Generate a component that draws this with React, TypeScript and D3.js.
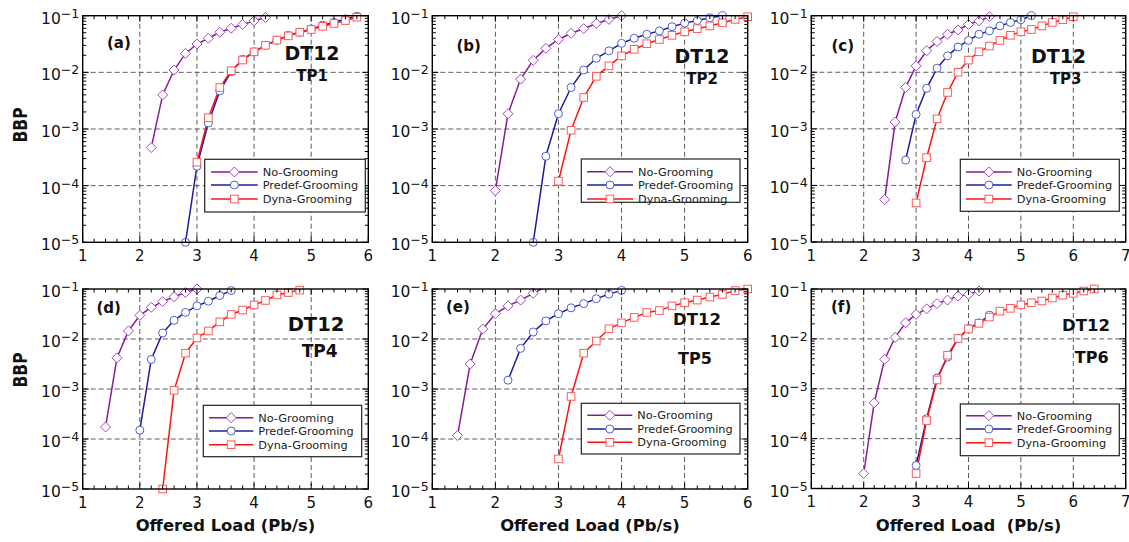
import React from 'react';
import * as d3 from 'd3';

// ---------- data ----------
const seriesNames = ['No-Grooming', 'Predef-Grooming', 'Dyna-Grooming'];
const yExponents = [-5, -4, -3, -2, -1];

// panel (a) TP1
const loadA_No = [2.2, 2.4, 2.6, 2.8, 3.0, 3.2, 3.4, 3.6, 3.8, 4.0, 4.2];
const bbpA_No = [4.7e-4, 4.0e-3, 1.1e-2, 2.16e-2, 3.16e-2, 4.0e-2, 5.1e-2, 6.0e-2, 7.0e-2, 8.1e-2, 9.3e-2];
const loadA_Pre = [2.8, 3.0, 3.2, 3.4, 3.6, 3.8, 4.0, 4.2, 4.4, 4.6, 4.8, 5.0, 5.2, 5.4, 5.6, 5.8];
const bbpA_Pre = [1e-5, 2.2e-4, 1.28e-3, 4.7e-3, 1.03e-2, 1.7e-2, 2.3e-2, 3.0e-2, 3.7e-2, 4.5e-2, 5.1e-2, 5.8e-2, 6.8e-2, 7.6e-2, 8.8e-2, 9.8e-2];
const loadA_Dyn = [3.0, 3.2, 3.4, 3.6, 3.8, 4.0, 4.2, 4.4, 4.6, 4.8, 5.0, 5.2, 5.4, 5.6, 5.8];
const bbpA_Dyn = [2.6e-4, 1.58e-3, 5.4e-3, 1.07e-2, 1.65e-2, 2.3e-2, 3.0e-2, 3.7e-2, 4.4e-2, 5.1e-2, 5.7e-2, 6.5e-2, 7.3e-2, 8.2e-2, 9.4e-2];

// panel (b) TP2
const loadB_No = [2.0, 2.2, 2.4, 2.6, 2.8, 3.0, 3.2, 3.4, 3.6, 3.8, 4.0];
const bbpB_No = [8.2e-5, 1.86e-3, 7.6e-3, 1.63e-2, 2.65e-2, 3.8e-2, 4.9e-2, 5.9e-2, 7.3e-2, 8.6e-2, 1e-1];
const loadB_Pre = [2.6, 2.8, 3.0, 3.2, 3.4, 3.6, 3.8, 4.0, 4.2, 4.4, 4.6, 4.8, 5.0, 5.2, 5.4, 5.6];
const bbpB_Pre = [1e-5, 3.3e-4, 1.86e-3, 5.4e-3, 1.1e-2, 1.77e-2, 2.4e-2, 3.25e-2, 4.0e-2, 4.7e-2, 5.4e-2, 6.4e-2, 7.4e-2, 8.2e-2, 9.2e-2, 1e-1];
const loadB_Dyn = [3.0, 3.2, 3.4, 3.6, 3.8, 4.0, 4.2, 4.4, 4.6, 4.8, 5.0, 5.2, 5.4, 5.6, 5.8, 6.0];
const bbpB_Dyn = [1.2e-4, 9.5e-4, 3.6e-3, 8.5e-3, 1.3e-2, 1.95e-2, 2.55e-2, 3.2e-2, 3.8e-2, 4.5e-2, 5.2e-2, 5.9e-2, 6.6e-2, 7.5e-2, 8.6e-2, 9.6e-2];

// panel (c) TP3
const loadC_No = [2.4, 2.6, 2.8, 3.0, 3.2, 3.4, 3.6, 3.8, 4.0, 4.2, 4.4];
const bbpC_No = [5.6e-5, 1.32e-3, 5.4e-3, 1.3e-2, 2.4e-2, 3.5e-2, 4.7e-2, 5.6e-2, 7.0e-2, 8.1e-2, 9.6e-2];
const loadC_Pre = [2.8, 3.0, 3.2, 3.4, 3.6, 3.8, 4.0, 4.2, 4.4, 4.6, 4.8, 5.0, 5.2];
const bbpC_Pre = [2.8e-4, 1.8e-3, 5.2e-3, 1.18e-2, 1.95e-2, 2.8e-2, 3.65e-2, 4.7e-2, 5.4e-2, 6.6e-2, 7.6e-2, 8.5e-2, 1e-1];
const loadC_Dyn = [3.0, 3.2, 3.4, 3.6, 3.8, 4.0, 4.2, 4.4, 4.6, 4.8, 5.0, 5.2, 5.4, 5.6, 5.8, 6.0];
const bbpC_Dyn = [4.9e-5, 3.1e-4, 1.5e-3, 4.4e-3, 1.0e-2, 1.64e-2, 2.3e-2, 2.9e-2, 3.65e-2, 4.5e-2, 5.2e-2, 5.7e-2, 6.6e-2, 7.6e-2, 8.5e-2, 9.6e-2];

// panel (d) TP4
const loadD_No = [1.4, 1.6, 1.8, 2.0, 2.2, 2.4, 2.6, 2.8, 3.0];
const bbpD_No = [1.74e-4, 4.2e-3, 1.45e-2, 2.97e-2, 4.3e-2, 5.6e-2, 7.0e-2, 8.5e-2, 1e-1];
const loadD_Pre = [2.0, 2.2, 2.4, 2.6, 2.8, 3.0, 3.2, 3.4, 3.6];
const bbpD_Pre = [1.5e-4, 3.9e-3, 1.32e-2, 2.36e-2, 3.4e-2, 4.6e-2, 5.7e-2, 7.4e-2, 9.3e-2];
const loadD_Dyn = [2.4, 2.6, 2.8, 3.0, 3.2, 3.4, 3.6, 3.8, 4.0, 4.2, 4.4, 4.6, 4.8];
const bbpD_Dyn = [1e-5, 9.4e-4, 5.2e-3, 1.05e-2, 1.45e-2, 2.2e-2, 3.1e-2, 3.8e-2, 4.8e-2, 5.9e-2, 7.6e-2, 8.5e-2, 9.5e-2];

// panel (e) TP5
const loadE_No = [1.4, 1.6, 1.8, 2.0, 2.2, 2.4, 2.6, 2.8];
const bbpE_No = [1.17e-4, 3.16e-3, 1.58e-2, 3.2e-2, 4.6e-2, 6.0e-2, 8.2e-2, 1.11e-1];
const loadE_Pre = [2.2, 2.4, 2.6, 2.8, 3.0, 3.2, 3.4, 3.6, 3.8, 4.0];
const bbpE_Pre = [1.5e-3, 6.5e-3, 1.38e-2, 2.3e-2, 3.2e-2, 4.2e-2, 5.1e-2, 6.4e-2, 7.9e-2, 9.4e-2];
const loadE_Dyn = [3.0, 3.2, 3.4, 3.6, 3.8, 4.0, 4.2, 4.4, 4.6, 4.8, 5.0, 5.2, 5.4, 5.6, 5.8, 6.0];
const bbpE_Dyn = [4.0e-5, 7.1e-4, 5.2e-3, 9.1e-3, 1.6e-2, 2.1e-2, 2.7e-2, 3.4e-2, 3.7e-2, 4.6e-2, 5.3e-2, 6.0e-2, 6.9e-2, 7.8e-2, 9.3e-2, 1e-1];

// panel (f) TP6
const loadF_No = [2.0, 2.2, 2.4, 2.6, 2.8, 3.0, 3.2, 3.4, 3.6, 3.8, 4.0, 4.2];
const bbpF_No = [2.0e-5, 5.2e-4, 3.9e-3, 1.07e-2, 2.1e-2, 3.1e-2, 4.0e-2, 5.1e-2, 6.0e-2, 7.2e-2, 7.8e-2, 9.1e-2];
const loadF_Pre = [3.0, 3.2, 3.4, 3.6, 3.8, 4.0, 4.2, 4.4];
const bbpF_Pre = [2.9e-5, 2.5e-4, 1.64e-3, 4.3e-3, 1.02e-2, 1.62e-2, 2.1e-2, 3.0e-2];
const loadF_Dyn = [3.0, 3.2, 3.4, 3.6, 3.8, 4.0, 4.2, 4.4, 4.6, 4.8, 5.0, 5.2, 5.4, 5.6, 5.8, 6.0, 6.2, 6.4];
const bbpF_Dyn = [2.0e-5, 2.3e-4, 1.5e-3, 4.7e-3, 1.02e-2, 1.58e-2, 2.05e-2, 2.74e-2, 3.6e-2, 4.1e-2, 4.8e-2, 5.3e-2, 5.75e-2, 6.6e-2, 7.5e-2, 8.2e-2, 9.1e-2, 1e-1];

const panelLabels = ['(a)', '(b)', '(c)', '(d)', '(e)', '(f)'];
const topologyLabels = ['TP1', 'TP2', 'TP3', 'TP4', 'TP5', 'TP6'];
const networkLabel = 'DT12';

// ---------- styling / layout ----------
const FONT = 'DejaVu Sans, Verdana, sans-serif';
const lineColors = ['#8a1a9a', '#1c1ca0', '#ff1010'];
const markerColors = ['#a04ac0', '#5060d0', '#ff5a5a'];

const zip = (xs: number[], ys: number[]) => xs.map((v, i) => [v, ys[i]] as [number, number]);

const panelData = [
  [zip(loadA_No, bbpA_No), zip(loadA_Pre, bbpA_Pre), zip(loadA_Dyn, bbpA_Dyn)],
  [zip(loadB_No, bbpB_No), zip(loadB_Pre, bbpB_Pre), zip(loadB_Dyn, bbpB_Dyn)],
  [zip(loadC_No, bbpC_No), zip(loadC_Pre, bbpC_Pre), zip(loadC_Dyn, bbpC_Dyn)],
  [zip(loadD_No, bbpD_No), zip(loadD_Pre, bbpD_Pre), zip(loadD_Dyn, bbpD_Dyn)],
  [zip(loadE_No, bbpE_No), zip(loadE_Pre, bbpE_Pre), zip(loadE_Dyn, bbpE_Dyn)],
  [zip(loadF_No, bbpF_No), zip(loadF_Pre, bbpF_Pre), zip(loadF_Dyn, bbpF_Dyn)],
];

interface Layout {
  L: number; R: number; T: number; B: number; xMax: number;
  lab: [number, number];
  dt: [number, number, number];
  tp: [number, number, number];
  leg: [number, number, number, number]; // x, y, w, h
  legRows: [number, number, number];
  legLine: [number, number];
  xTitle?: string;
}

const layouts: Layout[] = [
  { L: 82.7, R: 368.3, T: 15.7, B: 242.3, xMax: 6, lab: [107, 47.5], dt: [312, 59.5, 19], tp: [312, 80.5, 15],
    leg: [204.7, 159.3, 160.6, 52.7], legRows: [172, 185, 199], legLine: [211, 257.7] },
  { L: 432.3, R: 747.7, T: 15.7, B: 242.3, xMax: 6, lab: [456.5, 51], dt: [702, 63.3, 19], tp: [702, 83.5, 15],
    leg: [581.3, 159, 158.7, 43.3], legRows: [171.7, 185, 199], legLine: [587, 633] },
  { L: 811.3, R: 1125.7, T: 15.7, B: 242, xMax: 7, lab: [831.5, 50.5], dt: [1058.5, 63, 19], tp: [1065.5, 83.5, 15],
    leg: [960.3, 159.3, 159, 52], legRows: [172, 185, 199], legLine: [966, 1011.7] },
  { L: 82.7, R: 368.3, T: 289, B: 489, xMax: 6, lab: [96.5, 313], dt: [316, 330.7, 19.5], tp: [319.7, 356.7, 17],
    leg: [203.3, 405.3, 158.4, 51.4], legRows: [417.7, 431, 444.7], legLine: [209, 253.3], xTitle: 'Offered Load (Pb/s)' },
  { L: 432.3, R: 747.7, T: 289, B: 489, xMax: 6, lab: [446, 311.5], dt: [697, 325, 16.5], tp: [695, 364.3, 16],
    leg: [581.3, 403.3, 158.7, 50.7], legRows: [415.3, 429, 442.3], legLine: [587.3, 632.3], xTitle: 'Offered Load (Pb/s)' },
  { L: 811.3, R: 1125.7, T: 289, B: 488.5, xMax: 7, lab: [831, 311.5], dt: [1086, 330.7, 16.5], tp: [1091.7, 362.7, 16],
    leg: [960.3, 404, 159, 51.7], legRows: [415.7, 429, 442.7], legLine: [966, 1011.7], xTitle: 'Offered Load  (Pb/s)' },
];

function Marker({ kind, cx, cy, color }: { kind: number; cx: number; cy: number; color: string }) {
  if (kind === 0) {
    const h = 5;
    return <path d={`M${cx},${cy - h}L${cx + h},${cy}L${cx},${cy + h}L${cx - h},${cy}Z`} fill="white" stroke={color} strokeWidth={1} />;
  }
  if (kind === 1) {
    return <circle cx={cx} cy={cy} r={4} fill="white" stroke={color} strokeWidth={1} />;
  }
  const s = 3.8;
  return <rect x={cx - s} y={cy - s} width={2 * s} height={2 * s} fill="white" stroke={color} strokeWidth={1} />;
}

function Panel({ idx }: { idx: number }) {
  const lay = layouts[idx];
  const { L, R, T, B, xMax } = lay;
  const x = d3.scaleLinear().domain([1, xMax]).range([L, R]);
  const y = d3.scaleLog().domain([1e-5, 1e-1]).range([B, T]);
  const line = d3.line<[number, number]>().x((d) => x(d[0])).y((d) => y(d[1]));
  const majorX = d3.range(1, xMax + 0.001, 1);
  const minorX = d3.range(1, xMax + 0.001, 0.2).filter((v) => Math.abs(v - Math.round(v)) > 0.01);
  const minorY: number[] = [];
  yExponents.slice(0, 4).forEach((e) => { for (let k = 2; k <= 9; k++) minorY.push(k * Math.pow(10, e)); });
  const clipId = `clip-${idx}`;
  const grid = '#5a5a5a';
  const dash = '5,3';
  return (
    <g>
      <defs>
        <clipPath id={clipId}><rect x={L} y={T} width={R - L} height={B - T} /></clipPath>
      </defs>
      <rect x={L} y={T} width={R - L} height={B - T} fill="white" />
      {/* grid */}
      {majorX.slice(1, -1).map((v) => (
        <line key={`gx${v}`} x1={x(v)} x2={x(v)} y1={T} y2={B} stroke={grid} strokeWidth={1} strokeDasharray={dash} />
      ))}
      {yExponents.slice(1, -1).map((e) => (
        <line key={`gy${e}`} x1={L} x2={R} y1={y(Math.pow(10, e))} y2={y(Math.pow(10, e))} stroke={grid} strokeWidth={1} strokeDasharray={dash} />
      ))}
      {/* series */}
      <g clipPath={`url(#${clipId})`}>
        {panelData[idx].map((s, si) => (
          <path key={`l${si}`} d={line(s) || ''} fill="none" stroke={lineColors[si]} strokeWidth={1.5} />
        ))}
      </g>
      {panelData[idx].map((s, si) => (
        <g key={`m${si}`}>
          {s.filter((d) => d[1] <= 0.101).map((d, i) => (
            <Marker key={i} kind={si} cx={x(d[0])} cy={y(d[1])} color={markerColors[si]} />
          ))}
        </g>
      ))}
      {/* frame */}
      <rect x={L} y={T} width={R - L} height={B - T} fill="none" stroke="black" strokeWidth={1.4} />
      {/* ticks */}
      {majorX.map((v) => (
        <g key={`tx${v}`}>
          <line x1={x(v)} x2={x(v)} y1={B} y2={B - 6} stroke="black" strokeWidth={1} />
          <line x1={x(v)} x2={x(v)} y1={T} y2={T + 6} stroke="black" strokeWidth={1} />
          <text x={x(v)} y={B + 18.5} textAnchor="middle" fontFamily={FONT} fontSize={15} fill="#111">{v}</text>
        </g>
      ))}
      {minorX.map((v) => (
        <g key={`mx${v.toFixed(1)}`}>
          <line x1={x(v)} x2={x(v)} y1={B} y2={B - 3.5} stroke="black" strokeWidth={1} />
          <line x1={x(v)} x2={x(v)} y1={T} y2={T + 3.5} stroke="black" strokeWidth={1} />
        </g>
      ))}
      {yExponents.map((e) => {
        const yy = y(Math.pow(10, e));
        return (
          <g key={`ty${e}`}>
            <line x1={L} x2={L + 6} y1={yy} y2={yy} stroke="black" strokeWidth={1} />
            <line x1={R} x2={R - 6} y1={yy} y2={yy} stroke="black" strokeWidth={1} />
            <text x={L - 3.5} y={yy + 8} textAnchor="end" fontFamily={FONT} fontSize={15.5} fill="#111">
              <tspan>10</tspan>
              <tspan dy={-6} fontSize={12.5}>{`\u2212${Math.abs(e)}`}</tspan>
            </text>
          </g>
        );
      })}
      {minorY.map((v, i) => (
        <g key={`my${i}`}>
          <line x1={L} x2={L + 3.5} y1={y(v)} y2={y(v)} stroke="black" strokeWidth={1} />
          <line x1={R} x2={R - 3.5} y1={y(v)} y2={y(v)} stroke="black" strokeWidth={1} />
        </g>
      ))}
      {/* annotations */}
      <text x={lay.lab[0]} y={lay.lab[1]} fontFamily={FONT} fontWeight="bold" fontSize={15} fill="#111">{panelLabels[idx]}</text>
      <text x={lay.dt[0]} y={lay.dt[1]} textAnchor="middle" fontFamily={FONT} fontWeight="bold" fontSize={lay.dt[2]} fill="#111">{networkLabel}</text>
      <text x={lay.tp[0]} y={lay.tp[1]} textAnchor="middle" fontFamily={FONT} fontWeight="bold" fontSize={lay.tp[2]} fill="#111">{topologyLabels[idx]}</text>
      {/* legend */}
      <rect x={lay.leg[0]} y={lay.leg[1]} width={lay.leg[2]} height={lay.leg[3]} fill="white" stroke="#222" strokeWidth={1.2} />
      {seriesNames.map((name, si) => {
        const ly = lay.legRows[si];
        const [a, b] = lay.legLine;
        return (
          <g key={name}>
            <line x1={a} x2={b} y1={ly} y2={ly} stroke={lineColors[si]} strokeWidth={1.5} />
            <Marker kind={si} cx={(a + b) / 2} cy={ly} color={markerColors[si]} />
            <text x={b + 5} y={ly + 4} fontFamily={FONT} fontSize={11.3} fill="#222">{name}</text>
          </g>
        );
      })}
      {lay.xTitle && (
        <text x={(L + R) / 2} y={531} textAnchor="middle" fontFamily={FONT} fontWeight="bold" fontSize={16.4}
          fill="#111" style={{ whiteSpace: 'pre' }}>{lay.xTitle}</text>
      )}
    </g>
  );
}

export default function App() {
  return (
    <svg width={1129} height={542} style={{ position: 'absolute', left: 0, top: 0, background: 'white' }}>
      <rect x={0} y={0} width={1129} height={542} fill="white" />
      {layouts.map((_, i) => <Panel key={i} idx={i} />)}
      {[125, 370].map((cy) => (
        <text key={cy} transform={`translate(26.5,${cy}) rotate(-90)`} textAnchor="middle" fontFamily={FONT}
          fontWeight="bold" fontSize={20} textLength={35} lengthAdjust="spacingAndGlyphs" fill="#111">BBP</text>
      ))}
    </svg>
  );
}
